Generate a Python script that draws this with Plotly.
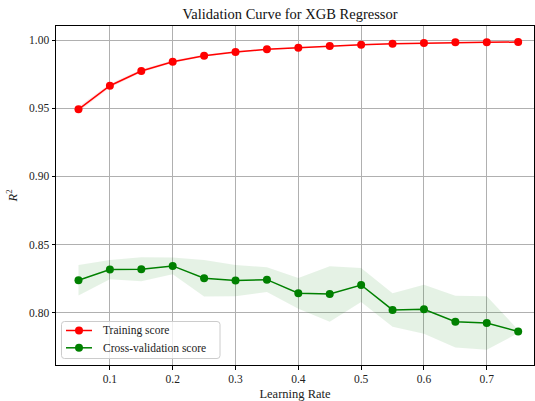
import plotly.graph_objects as go

# Learning rates evaluated in the validation curve
learning_rates = [0.05, 0.10, 0.15, 0.20, 0.25, 0.30, 0.35, 0.40, 0.45, 0.50,
                  0.55, 0.60, 0.65, 0.70, 0.75]

# Mean and std of R^2 on training folds
train_mean = [0.9492, 0.9665, 0.9773, 0.9841, 0.9885, 0.9912, 0.9932, 0.9944,
              0.9956, 0.9966, 0.9973, 0.9978, 0.9983, 0.9984, 0.9985]
train_std = [0.0018, 0.0015, 0.0012, 0.0010, 0.0008, 0.0007, 0.0006, 0.0005,
             0.0004, 0.0004, 0.0003, 0.0003, 0.0003, 0.0003, 0.0003]

# Mean and std of R^2 on cross-validation folds
cv_mean = [0.8238, 0.8316, 0.8318, 0.8343, 0.8252, 0.8235, 0.8242, 0.8142,
           0.8137, 0.8203, 0.8020, 0.8025, 0.7934, 0.7924, 0.7862]
cv_std = [0.0112, 0.0071, 0.0088, 0.0062, 0.0134, 0.0115, 0.0091, 0.0113,
          0.0203, 0.0124, 0.0123, 0.0180, 0.0190, 0.0196, 0.0012]

x_ticks = [0.1, 0.2, 0.3, 0.4, 0.5, 0.6, 0.7]
y_ticks = [0.80, 0.85, 0.90, 0.95, 1.00]

series_names = ["Training score", "Cross-validation score"]
series_colors = ["#ff0000", "#008000"]

FONT = "Liberation Serif, DejaVu Serif, serif"
W, H = 535, 401
ML, MR, MT, MB = 56, 1, 26, 36
PW, PH = W - ML - MR, H - MT - MB

fig = go.Figure()


def add_band(mean, std, fill):
    upper = [m + s for m, s in zip(mean, std)]
    lower = [m - s for m, s in zip(mean, std)]
    fig.add_trace(go.Scatter(
        x=learning_rates + learning_rates[::-1],
        y=upper + lower[::-1],
        fill="toself", fillcolor=fill, line=dict(width=0),
        mode="lines", hoverinfo="skip", showlegend=False,
    ))


add_band(train_mean, train_std, "rgba(255,0,0,0.1)")
add_band(cv_mean, cv_std, "rgba(0,128,0,0.1)")

for name, color, ys in zip(series_names, series_colors, [train_mean, cv_mean]):
    fig.add_trace(go.Scatter(
        x=learning_rates, y=ys, mode="lines+markers", name=name,
        line=dict(color=color, width=1.5),
        marker=dict(color=color, size=8),
        showlegend=False,
    ))


# Legend box drawn in paper coordinates (pixel helpers)
def px(x):
    return (x - ML) / PW


def py(y):
    return (H - MB - y) / PH


x0, x1, y0, y1, r = 61.5, 220, 321.5, 358.5, 3
path = (f"M {px(x0 + r)},{py(y0)} L {px(x1 - r)},{py(y0)} "
        f"Q {px(x1)},{py(y0)} {px(x1)},{py(y0 + r)} "
        f"L {px(x1)},{py(y1 - r)} Q {px(x1)},{py(y1)} {px(x1 - r)},{py(y1)} "
        f"L {px(x0 + r)},{py(y1)} Q {px(x0)},{py(y1)} {px(x0)},{py(y1 - r)} "
        f"L {px(x0)},{py(y0 + r)} Q {px(x0)},{py(y0)} {px(x0 + r)},{py(y0)} Z")
fig.add_shape(type="path", path=path, xref="paper", yref="paper",
              fillcolor="rgba(255,255,255,0.8)",
              line=dict(color="#cccccc", width=1), layer="above")

for i, (name, color) in enumerate(zip(series_names, series_colors)):
    row_y = 330.5 + i * 17.3
    fig.add_shape(type="line", xref="paper", yref="paper",
                  x0=px(66), x1=px(92), y0=py(row_y), y1=py(row_y),
                  line=dict(color=color, width=1.5), layer="above")
    rad = 4
    fig.add_shape(type="circle", xref="paper", yref="paper",
                  x0=px(79 - rad), x1=px(79 + rad),
                  y0=py(row_y + rad), y1=py(row_y - rad),
                  fillcolor=color, line=dict(color=color, width=0),
                  layer="above")
    fig.add_annotation(text=name, xref="paper", yref="paper",
                       x=px(100.5), y=py(row_y), xanchor="left",
                       yanchor="middle", showarrow=False,
                       font=dict(family=FONT, size=11.5, color="#222"))

axis_common = dict(
    showgrid=True, gridcolor="#b0b0b0", gridwidth=0.8,
    showline=True, linecolor="black", linewidth=1, mirror=True,
    ticks="outside", ticklen=3.5, tickcolor="black", tickwidth=0.8,
    zeroline=False,
    tickfont=dict(family=FONT, size=11.5, color="#222"),
)

fig.update_layout(
    width=W, height=H,
    margin=dict(l=ML, r=MR, t=MT, b=MB),
    paper_bgcolor="white", plot_bgcolor="white",
    font=dict(family=FONT, color="#222"),
    showlegend=False,
    title=dict(text="Validation Curve for XGB Regressor",
               x=px(290), xanchor="center", xref="paper",
               y=1 - 14 / H, yanchor="middle",
               font=dict(family=FONT, size=14.5, color="#111")),
    xaxis=dict(axis_common, range=[0.0142, 0.7752],
               tickvals=x_ticks, tickformat=".1f",
               title=dict(text="Learning Rate", standoff=4,
                          font=dict(family=FONT, size=12.5))),
    yaxis=dict(axis_common, range=[0.7616, 1.0103],
               tickvals=y_ticks, tickformat=".2f",
               title=dict(text="<i>R</i><sup>2</sup>", standoff=8,
                          font=dict(family=FONT, size=12.5))),
)

fig.write_html("out.html")
